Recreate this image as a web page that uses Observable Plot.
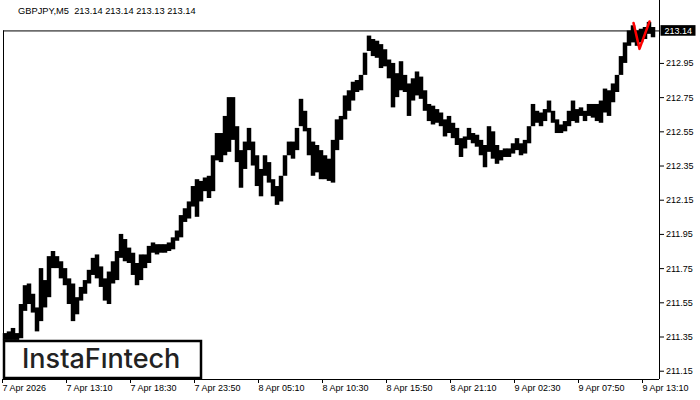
<!DOCTYPE html>
<html><head><meta charset="utf-8">
<script src="https://cdn.jsdelivr.net/npm/d3@7"></script>
<script src="https://cdn.jsdelivr.net/npm/@observablehq/plot@0.6"></script>
<style>
html,body{margin:0;padding:0;background:#fff;}
#chart{width:700px;height:400px;overflow:hidden;}
</style>
</head><body><div id="chart"></div>
<script>
// ---- data (GBPJPY M5, aggregated into 20-minute bins) ----
const symbolTitle = "GBPJPY,M5  213.14 213.14 213.13 213.14";
const lastPrice = 213.14;
const startTime = "2026-04-07T07:50:00Z";
const binMinutes = 20;
const high = [211.37,211.38,211.40,211.37,211.54,211.65,211.66,211.60,211.52,211.75,
211.68,211.82,211.85,211.82,211.79,211.75,211.69,211.66,211.58,211.64,
211.68,211.74,211.81,211.83,211.76,211.69,211.73,211.79,211.85,211.95,
211.92,211.87,211.84,211.78,211.83,211.83,211.88,211.90,211.89,211.89,
211.89,211.90,211.93,211.97,212.06,212.10,212.14,212.23,212.27,212.26,
212.28,212.29,212.41,212.54,212.54,212.64,212.75,212.75,212.58,212.44,
212.49,212.57,212.49,212.41,212.33,212.41,212.37,212.27,212.23,212.29,
212.41,212.49,212.49,212.57,212.74,212.67,212.57,212.49,212.47,212.44,
212.41,212.39,212.50,212.62,212.64,212.76,212.79,212.84,212.85,212.88,
213.01,213.11,213.09,213.08,213.06,213.03,212.97,212.95,212.89,212.96,
212.88,212.83,212.86,212.90,212.87,212.79,212.71,212.70,212.68,212.66,
212.62,212.64,212.60,212.57,212.51,212.52,212.57,212.54,212.53,212.50,
212.47,212.58,212.55,212.47,212.44,212.45,212.45,212.48,212.51,212.48,
212.50,212.58,212.71,212.67,212.66,212.68,212.73,212.67,212.62,212.59,
212.61,212.67,212.73,212.68,212.69,212.67,212.71,212.71,212.71,212.73,
212.80,212.79,212.83,212.88,212.99,213.07,213.14,213.17,213.14,213.15,
213.16,213.19,213.16];
const low = [211.33,211.33,211.33,211.33,211.34,211.50,211.54,211.49,211.38,211.44,
211.52,211.58,211.75,211.75,211.69,211.65,211.54,211.44,211.48,211.56,
211.60,211.66,211.71,211.69,211.64,211.56,211.54,211.66,211.68,211.81,
211.79,211.78,211.71,211.65,211.68,211.75,211.78,211.84,211.83,211.84,
211.84,211.85,211.86,211.91,211.93,212.02,212.04,212.11,212.05,212.14,
212.20,212.16,212.20,212.38,212.37,212.41,212.43,212.50,212.37,212.22,
212.33,212.44,212.35,212.23,212.17,212.29,212.25,212.17,212.12,212.14,
212.29,212.41,212.39,212.44,212.58,212.55,212.41,212.29,212.31,212.27,
212.27,212.26,212.25,212.44,212.50,212.62,212.67,212.73,212.78,212.79,
212.88,213.02,212.99,212.98,212.92,212.93,212.86,212.69,212.75,212.79,
212.78,212.64,212.73,212.76,212.74,212.67,212.61,212.59,212.60,212.58,
212.52,212.54,212.51,212.47,212.40,212.45,212.50,212.48,212.46,212.41,
212.34,212.43,212.39,212.36,212.38,212.40,212.40,212.42,212.44,212.41,
212.42,212.48,212.58,212.60,212.58,212.61,212.66,212.60,212.54,212.54,
212.55,212.58,212.61,212.60,212.64,212.61,212.64,212.63,212.61,212.60,
212.66,212.64,212.72,212.78,212.88,212.95,213.05,213.07,213.05,213.07,
213.09,213.12,213.10];
// pattern (red) points
const patternTimes = ["2026-04-09T12:20:00Z","2026-04-09T12:50:00Z","2026-04-09T13:40:00Z"];
const patternPrices = [213.187, 213.035, 213.195];
// axis ticks
const yTicks = [211.15,211.35,211.55,211.75,211.95,212.15,212.35,212.55,212.75,212.95];
const xTickTimes = ["2026-04-07T07:50:00Z","2026-04-07T13:10:00Z","2026-04-07T18:30:00Z","2026-04-07T23:50:00Z",
"2026-04-08T05:10:00Z","2026-04-08T10:30:00Z","2026-04-08T15:50:00Z","2026-04-08T21:10:00Z",
"2026-04-09T02:30:00Z","2026-04-09T07:50:00Z","2026-04-09T13:10:00Z"];
const xTickLabels = ["7 Apr 2026","7 Apr 13:10","7 Apr 18:30","7 Apr 23:50","8 Apr 05:10","8 Apr 10:30",
"8 Apr 15:50","8 Apr 21:10","9 Apr 02:30","9 Apr 07:50","9 Apr 13:10"];
const xDomainEnd = "2026-04-09T14:30:00Z";
const yDomain = [211.1015, 213.318];
const logoText = "InstaF\u0131ntech";

// ---- build ----
const t0 = new Date(startTime).getTime();
const bars = high.map((h, i) => ({
  t1: new Date(t0 + i * binMinutes * 60000),
  t2: new Date(t0 + (i + 1) * binMinutes * 60000),
  high: h, low: low[i]
}));
const pattern = patternTimes.map((t, i) => ({t: new Date(t), p: patternPrices[i]}));
const xTicks = xTickTimes.map(d => new Date(d));
const labelMap = new Map(xTicks.map((d, i) => [+d, xTickLabels[i]]));
const xMin = new Date(startTime), xMax = new Date(xDomainEnd);

const font = "'Liberation Sans', Arial, sans-serif";
const plot = Plot.plot({
  width: 700, height: 400,
  marginLeft: 3, marginRight: 41, marginTop: 0, marginBottom: 21,
  style: {fontFamily: font, fontSize: "9px", color: "#000", background: "#fff"},
  x: {type: "utc", domain: [xMin, xMax], axis: null},
  y: {domain: yDomain, axis: null},
  marks: [
    Plot.rect(bars, {x1: "t1", x2: "t2", y1: "low", y2: "high", fill: "#000", insetLeft: -0.25, insetRight: -0.25}),
    Plot.ruleY([lastPrice], {stroke: "#000", strokeWidth: 1}),
    Plot.line(pattern, {x: "t", y: "p", stroke: "#ff0000", strokeWidth: 2.5}),
    Plot.ruleX([xMin], {y1: lastPrice, y2: yDomain[0], stroke: "#000"}),
    Plot.ruleX([xMax], {stroke: "#000"}),
    Plot.ruleY([yDomain[0]], {stroke: "#000"}),
    Plot.axisY(yTicks, {anchor: "right", tickSize: 4, tickPadding: 2.5, tickFormat: d => d.toFixed(2), fontSize: 9}),
    Plot.axisX(xTicks, {anchor: "bottom", tickSize: 4, tickPadding: 1.5, textAnchor: "start", dx: -1, tickFormat: d => labelMap.get(+d), fontSize: 9})
  ]
});
document.getElementById("chart").appendChild(plot);

const svg = d3.select(plot);
const yS = plot.scale("y");
const py = yS.apply(lastPrice);
// header text
svg.append("text").attr("x", 18).attr("y", 14).attr("text-anchor", "start").attr("font-family", font).attr("font-size", 9.3)
  .attr("fill", "#000").text(symbolTitle);
// price tag
svg.append("rect").attr("x", 660.5).attr("y", py - 5.3).attr("width", 35).attr("height", 10.6).attr("fill", "#000");
svg.append("text").attr("x", 664.5).attr("y", py).attr("dy", "0.35em").attr("text-anchor", "start").attr("font-family", font)
  .attr("font-size", 9).attr("fill", "#fff").text(lastPrice.toFixed(2));
// logo box
svg.append("rect").attr("x", 4).attr("y", 341).attr("width", 197).attr("height", 37)
  .attr("fill", "#fff").attr("stroke", "#000").attr("stroke-width", 2.5);
svg.append("text").attr("x", 22).attr("y", 368).attr("text-anchor", "start").attr("font-family", "Inter, Lato, sans-serif")
  .attr("font-weight", 500).attr("font-size", 27).attr("fill", "#222").text(logoText);
</script>
</body></html>
